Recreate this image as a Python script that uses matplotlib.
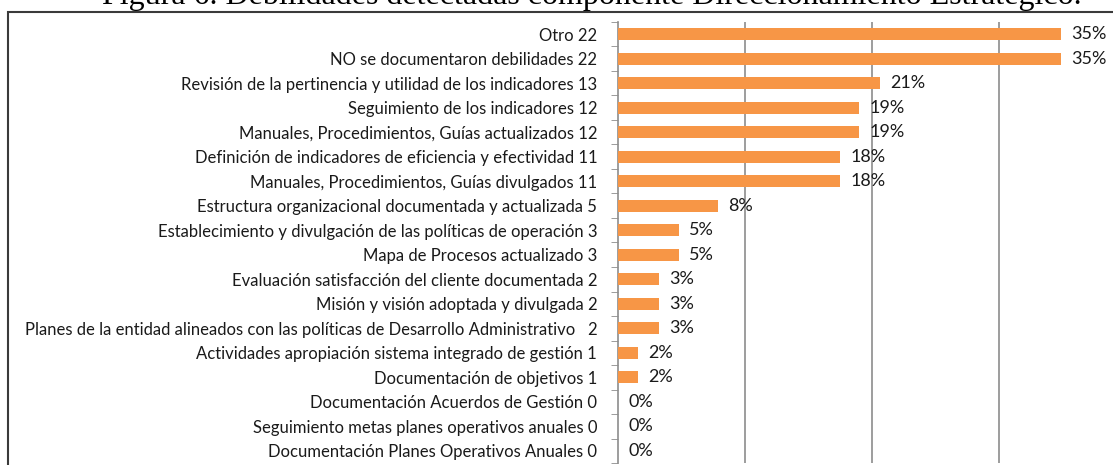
import matplotlib
matplotlib.use("Agg")
import matplotlib.pyplot as plt
from matplotlib.patches import Rectangle
import numpy as np

# categorias (de arriba hacia abajo), conteos y porcentajes
categorias = [
    "Otro",
    "NO se documentaron debilidades",
    "Revisión de la pertinencia y utilidad de los indicadores",
    "Seguimiento de los indicadores",
    "Manuales, Procedimientos, Guías actualizados",
    "Definición de indicadores de eficiencia y efectividad",
    "Manuales, Procedimientos, Guías divulgados",
    "Estructura organizacional documentada y actualizada",
    "Establecimiento y divulgación de las políticas de operación",
    "Mapa de Procesos actualizado",
    "Evaluación satisfacción del cliente documentada",
    "Misión y visión adoptada y divulgada",
    "Planes de la entidad alineados con las políticas de Desarrollo Administrativo  ",
    "Actividades apropiación sistema integrado de gestión",
    "Documentación de objetivos",
    "Documentación Acuerdos de Gestión",
    "Seguimiento metas planes operativos anuales",
    "Documentación Planes Operativos Anuales",
]
conteos = [22, 22, 13, 12, 12, 11, 11, 5, 3, 3, 2, 2, 2, 1, 1, 0, 0, 0]
porcentajes = [34.9, 34.9, 20.6, 19.0, 19.0, 17.5, 17.5, 7.9, 4.8, 4.8,
               3.2, 3.2, 3.2, 1.6, 1.6, 0.0, 0.0, 0.0]
etiquetas_pct = ["35%", "35%", "21%", "19%", "19%", "18%", "18%", "8%", "5%", "5%",
                 "3%", "3%", "3%", "2%", "2%", "0%", "0%", "0%"]
titulo = "Figura 6. Debilidades detectadas componente Direccionamiento Estratégico."

naranja = "#F79646"
gris = "#8C8C8C"
fuente = "Lato"

fig = plt.figure(figsize=(11.13, 4.65), dpi=100)

# recuadro del grafico (cortado a la derecha y abajo)
borde = Rectangle((8 / 1113, -0.05), 1.2, 1 - 12 / 465 + 0.05, transform=fig.transFigure,
                  fill=False, edgecolor="#3a3a3a", linewidth=1.5)
fig.patches.append(borde)

# el titulo aparece cortado por arriba, como en la figura original
fig.text(592 / 1113, 1 - 4 / 465, titulo, ha="center", va="baseline",
         fontsize=23, family="Liberation Serif", color="black")

ax = fig.add_axes([618 / 1113, 2 / 465, 508 / 1113, 441 / 465])

n = len(categorias)
y = np.arange(n)
ax.barh(y, porcentajes, height=0.5, color=naranja, edgecolor="none", zorder=3)

for yi, p, txt in zip(y, porcentajes, etiquetas_pct):
    ax.text(p + 0.8, yi, txt, va="center", ha="left", fontsize=13,
            family=fuente, color="#1a1a1a", zorder=4)

ax.set_ylim(n - 0.5, -0.5)
ax.set_xlim(0, 40)
ax.set_yticks(y)
ax.set_yticklabels([f"{c} {k}" for c, k in zip(categorias, conteos)],
                   fontsize=12.0, family=fuente, color="#1a1a1a")
ax.tick_params(axis="y", which="major", length=0, pad=15)
ax.set_yticks(np.arange(-0.5, n, 1), minor=True)
ax.tick_params(axis="y", which="minor", length=5, color=gris, direction="out")

ax.set_xticks([10, 20, 30])
ax.tick_params(axis="x", length=0, labelbottom=False)
ax.grid(axis="x", color=gris, linewidth=1.2, zorder=0)

for lado in ["top", "right", "bottom"]:
    ax.spines[lado].set_visible(False)
ax.spines["left"].set_color(gris)
ax.spines["left"].set_linewidth(1.2)

fig.savefig("out.png", dpi=100)
